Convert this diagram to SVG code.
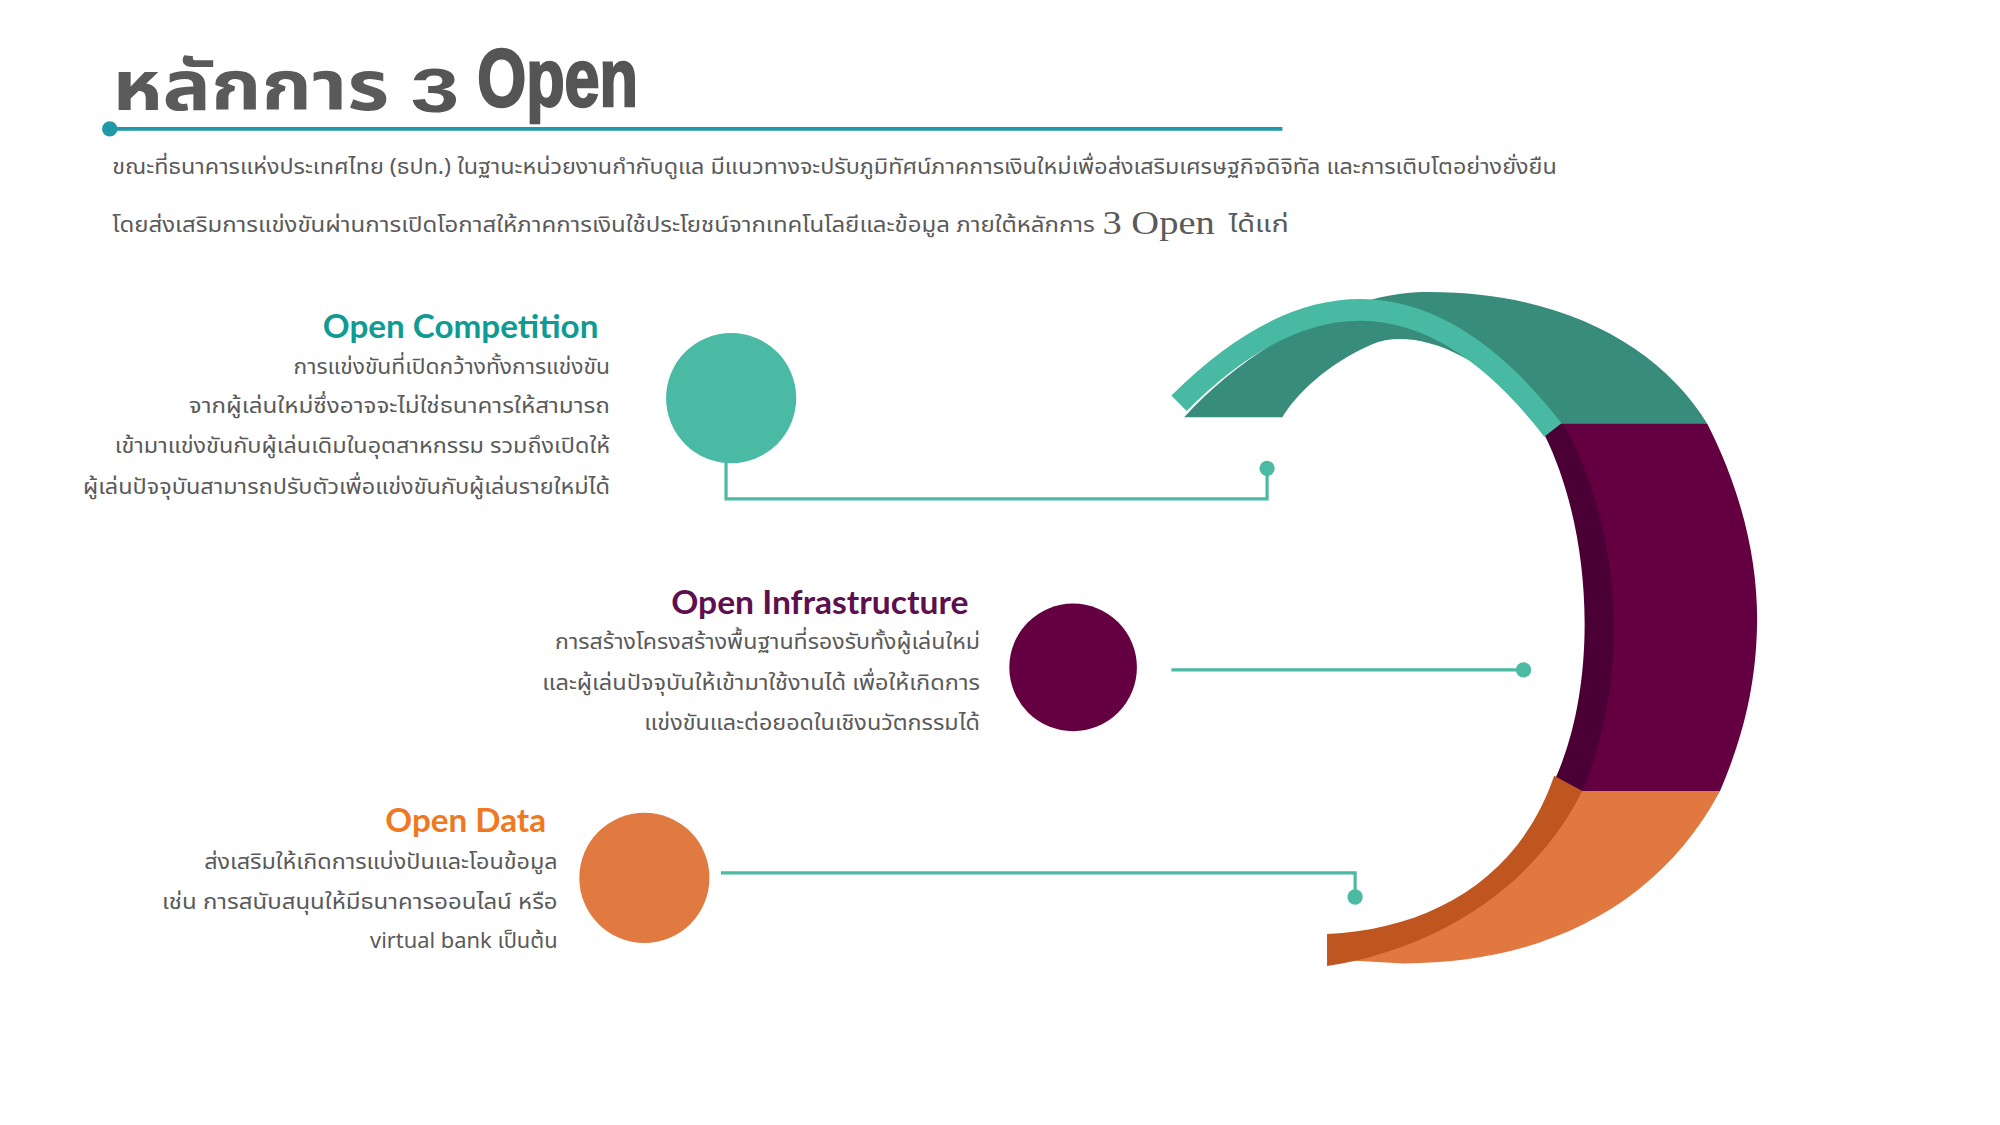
<svg xmlns="http://www.w3.org/2000/svg" width="2000" height="1125" viewBox="0 0 2000 1125">
<style>
.th{font-family:"Noto Sans Thai","Noto Sans","DejaVu Sans",sans-serif;fill:#5a5a5a}
.body{font-size:17px;text-anchor:end}
.head{font-family:Lato,"Noto Sans",sans-serif;font-weight:bold;font-size:25px;text-anchor:end}
.conn{fill:none;stroke:#4bbaa4;stroke-width:2.5}
.dot{fill:#4bbaa4}
</style>
<rect width="2000" height="1125" fill="#fff"/>
<g transform="scale(1.276)">
<g id="title">
<text x="88" y="86" class="th" font-size="54" font-weight="bold" fill="#555" textLength="217" lengthAdjust="spacingAndGlyphs">หลักการ</text>
<text x="322" y="88" font-family="Liberation Sans,sans-serif" font-weight="bold" font-size="50" fill="#555" textLength="38" lengthAdjust="spacingAndGlyphs">3</text>
<text x="374" y="83" font-family="Liberation Sans Narrow,Liberation Sans,sans-serif" font-weight="bold" font-size="64" fill="#555" stroke="#555" stroke-width="2" textLength="126" lengthAdjust="spacingAndGlyphs">Open</text>
<line x1="86" y1="101" x2="1005" y2="101" stroke="#1f98a8" stroke-width="3"/>
<circle cx="86" cy="101" r="6" fill="#1f98a8"/>
<text x="88" y="136" class="th" font-size="16.5" textLength="1132" lengthAdjust="spacingAndGlyphs">ขณะที่ธนาคารแห่งประเทศไทย (ธปท.) ในฐานะหน่วยงานกำกับดูแล มีแนวทางจะปรับภูมิทัศน์ภาคการเงินใหม่เพื่อส่งเสริมเศรษฐกิจดิจิทัล และการเติบโตอย่างยั่งยืน</text>
<text x="88" y="182" class="th" font-size="16.5" textLength="770" lengthAdjust="spacingAndGlyphs">โดยส่งเสริมการแข่งขันผ่านการเปิดโอกาสให้ภาคการเงินใช้ประโยชน์จากเทคโนโลยีและข้อมูล ภายใต้หลักการ</text>
<text x="864" y="183" font-family="Liberation Serif,serif" font-size="26" fill="#5a5a5a" textLength="88" lengthAdjust="spacingAndGlyphs">3 Open</text>
<text x="963" y="182" class="th" font-size="18" textLength="47" lengthAdjust="spacingAndGlyphs">ได้แก่</text>
</g>
<g id="ring">
<path d="M928,327 C975,275 1050,232 1110,229 C1220,226 1300,270 1338,332 L1212,340 C1170,280 1110,255 1075,270 C1040,285 1015,310 1005,327 Z" fill="#378c7c"/>
<path d="M1212,332 L1338,332 C1365,385 1378,440 1377,490 C1376,540 1365,580 1348,620 L1218,620 C1255,540 1255,420 1212,332 Z" fill="#640042"/>
<path d="M1210,340 C1250,420 1252,540 1218,612 L1240,620 C1275,540 1275,420 1225,332 Z" fill="#4a0034"/>
<path d="M1232,620 L1348,620 C1300,710 1210,755 1100,755 L1045,752 C1120,740 1200,700 1232,620 Z" fill="#e07840"/>
<path d="M1218,608 L1240,620 C1200,700 1120,745 1040,757 L1040,732 C1120,728 1190,690 1218,608 Z" fill="#c0561f"/>
<path d="M924,316 Q1080,160 1217,337" fill="none" stroke="#48b9a2" stroke-width="17"/>
</g>
<g id="connectors">
<polyline class="conn" points="569,360 569,391 993,391 993,367"/>
<circle class="dot" cx="993" cy="367" r="6"/>
<line class="conn" x1="918" y1="525" x2="1194" y2="525"/>
<circle class="dot" cx="1194" cy="525" r="6"/>
<polyline class="conn" points="565,684 1062,684 1062,703"/>
<circle class="dot" cx="1062" cy="703" r="6"/>
</g>
<g id="competition">
<circle cx="573" cy="312" r="51" fill="#4bbaa4"/>
<text x="469" y="265" class="head" fill="#0f9a94" textLength="216" lengthAdjust="spacingAndGlyphs">Open Competition</text>
<text class="th body" x="478" y="293" textLength="248" lengthAdjust="spacingAndGlyphs">การแข่งขันที่เปิดกว้างทั้งการแข่งขัน</text>
<text class="th body" x="478" y="324" textLength="330" lengthAdjust="spacingAndGlyphs">จากผู้เล่นใหม่ซึ่งอาจจะไม่ใช่ธนาคารให้สามารถ</text>
<text class="th body" x="478" y="355" textLength="388" lengthAdjust="spacingAndGlyphs">เข้ามาแข่งขันกับผู้เล่นเดิมในอุตสาหกรรม รวมถึงเปิดให้</text>
<text class="th body" x="478" y="387" textLength="413" lengthAdjust="spacingAndGlyphs">ผู้เล่นปัจจุบันสามารถปรับตัวเพื่อแข่งขันกับผู้เล่นรายใหม่ได้</text>
</g>
<g id="infrastructure">
<circle cx="841" cy="523" r="50" fill="#640042"/>
<text x="759" y="481" class="head" fill="#5e0f4e" textLength="233" lengthAdjust="spacingAndGlyphs">Open Infrastructure</text>
<text class="th body" x="768" y="509" textLength="333" lengthAdjust="spacingAndGlyphs">การสร้างโครงสร้างพื้นฐานที่รองรับทั้งผู้เล่นใหม่</text>
<text class="th body" x="768" y="541" textLength="343" lengthAdjust="spacingAndGlyphs">และผู้เล่นปัจจุบันให้เข้ามาใช้งานได้ เพื่อให้เกิดการ</text>
<text class="th body" x="768" y="572" textLength="263" lengthAdjust="spacingAndGlyphs">แข่งขันและต่อยอดในเชิงนวัตกรรมได้</text>
</g>
<g id="data">
<circle cx="505" cy="688" r="51" fill="#e07a40"/>
<text x="428" y="652" class="head" fill="#f07820" textLength="126" lengthAdjust="spacingAndGlyphs">Open Data</text>
<text class="th body" x="437" y="681" textLength="277" lengthAdjust="spacingAndGlyphs">ส่งเสริมให้เกิดการแบ่งปันและโอนข้อมูล</text>
<text class="th body" x="437" y="712" textLength="310" lengthAdjust="spacingAndGlyphs">เช่น การสนับสนุนให้มีธนาคารออนไลน์ หรือ</text>
<text class="th body" x="437" y="743" textLength="147" lengthAdjust="spacingAndGlyphs">virtual bank เป็นต้น</text>
</g>
</g>
</svg>
